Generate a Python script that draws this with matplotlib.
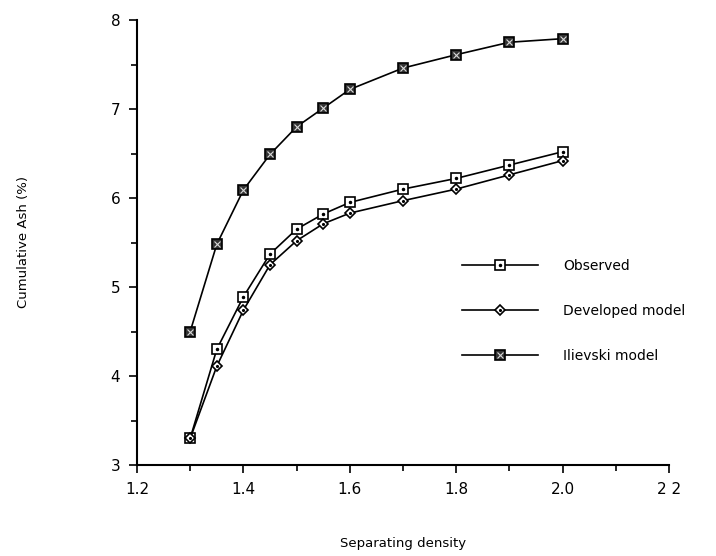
import matplotlib
matplotlib.use("Agg")
import matplotlib.pyplot as plt
from matplotlib.ticker import MultipleLocator

# separating density values
density = [1.3, 1.35, 1.4, 1.45, 1.5, 1.55, 1.6, 1.7, 1.8, 1.9, 2.0]

# cumulative ash (%)
observed = [3.3, 4.30, 4.89, 5.37, 5.65, 5.82, 5.95, 6.10, 6.22, 6.37, 6.52]
developed = [3.3, 4.11, 4.74, 5.25, 5.52, 5.71, 5.83, 5.97, 6.10, 6.26, 6.42]
ilievski = [4.5, 5.48, 6.09, 6.49, 6.80, 7.01, 7.22, 7.46, 7.61, 7.75, 7.79]

x_ticks = [1.2, 1.4, 1.6, 1.8, 2.0, 2.2]
x_tick_labels = ['1.2', '1.4', '1.6', '1.8', '2.0', '2 2']
y_ticks = [3, 4, 5, 6, 7, 8]

fig = plt.figure(figsize=(7.16, 5.56), dpi=100)
ax = fig.add_axes([137 / 716, 1 - 465 / 556, (669 - 137) / 716, (465 - 20) / 556])

lw = 1.2
# observed: open square with a dot
l1, = ax.plot(density, observed, color='black', lw=lw, marker='s', ms=7,
              mfc='white', mec='black', mew=1.2)
d1, = ax.plot(density, observed, ls='none', marker='.', ms=3, color='black')
# developed model: small diamond with a dot
l2, = ax.plot(density, developed, color='black', lw=lw, marker='D', ms=5.5,
              mfc='white', mec='black', mew=1.2)
d2, = ax.plot(density, developed, ls='none', marker='.', ms=2.5, color='black')
# ilievski model: dark patterned square
l3, = ax.plot(density, ilievski, color='black', lw=lw, marker='s', ms=7,
              mfc='0.2', mec='black', mew=1.2)
d3, = ax.plot(density, ilievski, ls='none', marker='x', ms=4, color='0.85', mew=0.8)

ax.set_xlim(1.2, 2.2)
ax.set_ylim(3, 8)
ax.set_xticks(x_ticks)
ax.set_xticklabels(x_tick_labels)
ax.set_yticks(y_ticks)
ax.xaxis.set_minor_locator(MultipleLocator(0.1))
ax.yaxis.set_minor_locator(MultipleLocator(0.5))
ax.tick_params(which='major', direction='out', length=6, width=1.2, labelsize=11)
ax.tick_params(which='minor', direction='out', length=4, width=1.2)
ax.tick_params(axis='y', pad=6)
ax.tick_params(axis='x', pad=6)

for side in ['top', 'right']:
    ax.spines[side].set_visible(False)
for side in ['left', 'bottom']:
    ax.spines[side].set_linewidth(1.5)

ax.set_xlabel('Separating density', fontsize=9.5, labelpad=29)
ax.set_ylabel('Cumulative Ash (%)', fontsize=9.5, labelpad=58)

leg = ax.legend([(l1, d1), (l2, d2), (l3, d3)],
                ['Observed', 'Developed model', 'Ilievski model'],
                loc='upper left', bbox_to_anchor=(449 / 716, 1 - 246 / 556),
                bbox_transform=fig.transFigure, frameon=False, fontsize=10,
                handlelength=5.5, handletextpad=1.8, labelspacing=2.25,
                numpoints=1)

fig.savefig('out.png', dpi=100)
